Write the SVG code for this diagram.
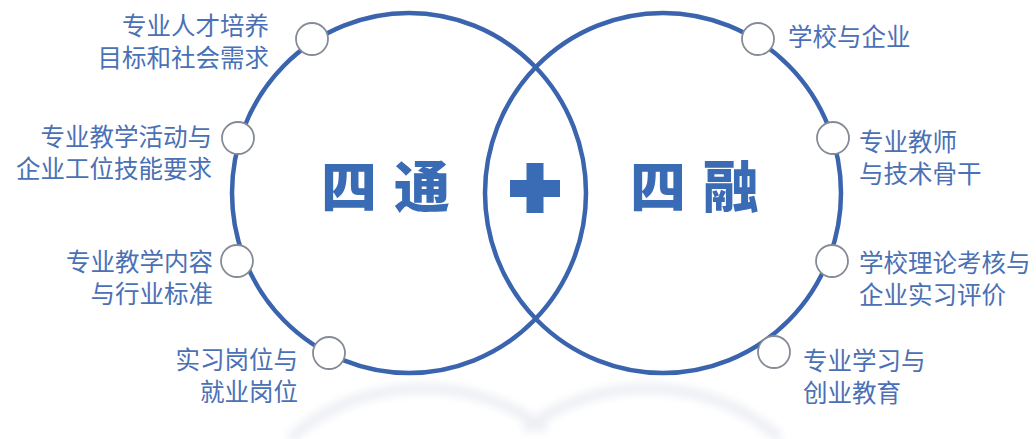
<svg xmlns="http://www.w3.org/2000/svg" width="1036" height="439" viewBox="0 0 1036 439">
  <defs>
    <style>
      .ring { fill: none; stroke: #3a64ae; stroke-width: 4.5; }
      .dot { fill: #ffffff; stroke: #858b96; stroke-width: 1.8; }
      .lbl { font-family: "Noto Sans CJK SC", "Noto Sans", sans-serif; font-size: 24.5px; fill: #4a70b5; }
      .l { text-anchor: end; }
      .r { text-anchor: start; }
      .title { font-family: "Noto Sans CJK SC", "Noto Sans", sans-serif; font-size: 56px; font-weight: 900; fill: #3a6bb5; text-anchor: middle; }
      .shadow { fill: none; stroke: #eceef3; stroke-width: 10; }
    </style>
    <filter id="blur" x="-20%" y="-50%" width="140%" height="200%">
      <feGaussianBlur stdDeviation="4"/>
    </filter>
  </defs>
  <rect width="1036" height="439" fill="#ffffff"/>

  <g id="reflection" filter="url(#blur)">
    <path class="shadow" d="M 290 439 A 177 150 0 0 1 545 430"/>
    <path class="shadow" d="M 525 430 A 177 150 0 0 1 780 439"/>
  </g>

  <g id="connectors">
    <ellipse id="ring-left" class="ring" cx="409" cy="193" rx="177" ry="180"/>
    <ellipse id="ring-right" class="ring" cx="663" cy="193" rx="178" ry="180"/>
  </g>

  <g id="center-plus">
    <rect x="510" y="180" width="50" height="17" fill="#3a6bb5"/>
    <rect x="526.5" y="163" width="17" height="50" fill="#3a6bb5"/>
  </g>

  <g id="title-left">
    <text class="title" x="349" y="207">四</text>
    <text class="title" x="422" y="207">通</text>
  </g>
  <g id="title-right">
    <text class="title" x="658" y="207">四</text>
    <text class="title" x="731" y="207">融</text>
  </g>

  <g id="node-l1">
    <circle class="dot" cx="312" cy="39" r="16"/>
    <text class="lbl l" x="269" y="35">专业人才培养</text>
    <text class="lbl l" x="269" y="66.5">目标和社会需求</text>
  </g>
  <g id="node-l2">
    <circle class="dot" cx="238" cy="138" r="16"/>
    <text class="lbl l" x="212" y="146">专业教学活动与</text>
    <text class="lbl l" x="212" y="177.5">企业工位技能要求</text>
  </g>
  <g id="node-l3">
    <circle class="dot" cx="237" cy="261" r="16"/>
    <text class="lbl l" x="213" y="271">专业教学内容</text>
    <text class="lbl l" x="213" y="303">与行业标准</text>
  </g>
  <g id="node-l4">
    <circle class="dot" cx="329" cy="353" r="16"/>
    <text class="lbl l" x="298" y="369">实习岗位与</text>
    <text class="lbl l" x="298" y="400.5">就业岗位</text>
  </g>

  <g id="node-r1">
    <circle class="dot" cx="758" cy="39" r="16"/>
    <text class="lbl r" x="788" y="46">学校与企业</text>
  </g>
  <g id="node-r2">
    <circle class="dot" cx="833" cy="138" r="16"/>
    <text class="lbl r" x="859" y="151">专业教师</text>
    <text class="lbl r" x="859" y="183">与技术骨干</text>
  </g>
  <g id="node-r3">
    <circle class="dot" cx="832" cy="261" r="16"/>
    <text class="lbl r" x="859" y="272">学校理论考核与</text>
    <text class="lbl r" x="859" y="303.5">企业实习评价</text>
  </g>
  <g id="node-r4">
    <circle class="dot" cx="774" cy="352" r="16"/>
    <text class="lbl r" x="803" y="370">专业学习与</text>
    <text class="lbl r" x="803" y="401.5">创业教育</text>
  </g>
</svg>
